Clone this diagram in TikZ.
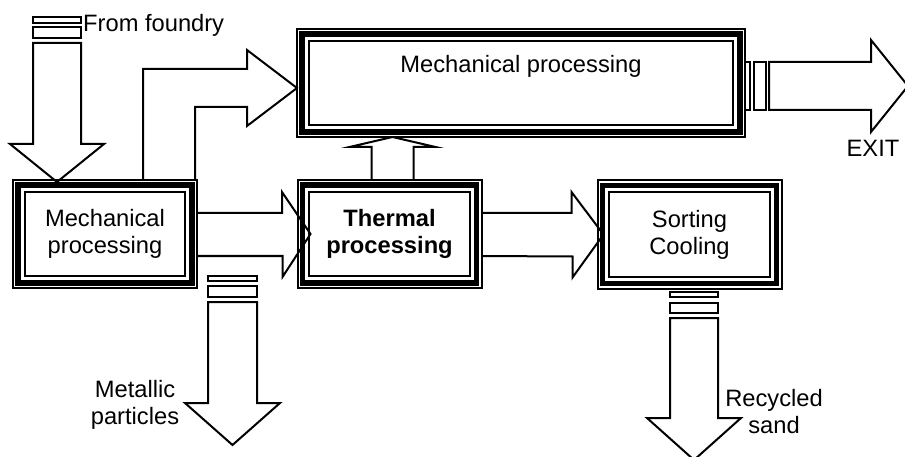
\documentclass[tikz,border=0pt]{standalone}
\usepackage{fontspec}
\setmainfont{Liberation Sans}
\usetikzlibrary{calc}

\newcommand{\figfont}{\fontsize{23.7}{27}\selectfont}

\tikzset{
    procbox/.style={
        draw, line width=2pt, minimum width=184pt, minimum height=108pt,
        inner sep=0pt, outer sep=0pt, align=center, font=\figfont,
        path picture={
            \draw[line width=5.4pt]
                ([shift={(5pt,-5pt)}]path picture bounding box.north west) rectangle
                ([shift={(-5pt,5pt)}]path picture bounding box.south east);
            \draw[line width=2pt]
                ([shift={(11.8pt,-11.8pt)}]path picture bounding box.north west) rectangle
                ([shift={(-11.8pt,11.8pt)}]path picture bounding box.south east);
        }},
    blockarrow/.style={draw, line width=2pt, line join=miter},
    bar/.style={draw, line width=2pt},
    lbl/.style={font=\figfont, align=center, inner sep=0pt}
}

\begin{document}
\begin{tikzpicture}[x=1pt, y=-1pt]
    \useasboundingbox (0,0) rectangle (905,457);

    % process boxes
    \node[procbox] (mech) at (105,234) {Mechanical\\processing};
    \node[procbox, font=\figfont\bfseries] (therm) at (389.5,234) {Thermal\\processing};
    \node[procbox] (sort) at (689.5,234.5) {Sorting\\Cooling};
    \node[procbox, minimum width=448pt] (mechtop) at (521,83) {};
    \node[lbl, anchor=base] (mechtoptxt) at (521,73) {Mechanical processing};

    % feed from the foundry
    \coordinate (found) at (57,17);
    \draw[bar] ($(found)+(-24,0)$) rectangle ++(48,6);
    \draw[bar] ($(found)+(-24,10)$) rectangle ++(48,11);
    \draw[blockarrow] ($(found)+(-24,26)$) -- ++(0,101) -- ++(-23,0)
        -- ([xshift=-48pt,yshift=-2pt]mech.north) -- ++(47,-38) -- ++(-23,0) -- ++(0,-101) -- cycle;
    \node[lbl, anchor=base west] (foundtxt) at ($(found)+(26,15)$) {From foundry};

    % mech -> upper mechanical processing
    \draw[blockarrow] ([xshift=38pt]mech.north) -- ++(0,-111) -- ++(104,0) -- ++(0,-19)
        -- ([yshift=-5pt]mechtop.west) -- ++(-50,38) -- ++(0,-19) -- ++(-52,0) -- ++(0,73);

    % mech -> therm
    \draw[blockarrow] ([yshift=21pt]mech.east) -- ++(85,0) -- ++(0,-21)
        -- ([xshift=13pt]therm.west) -- ++(-28,43) -- ++(0,-21) -- ([yshift=-22pt]mech.east);

    % therm -> sort
    \draw[blockarrow] ([yshift=21pt]therm.east) -- ++(90,0) -- ++(0,-21)
        -- ([xshift=6pt]sort.west) -- ++(-31,43) -- ++(0,-21) -- ([yshift=-22pt]therm.east);

    % therm -> upper mechanical processing
    \draw[blockarrow] ([xshift=-18pt]therm.north) -- ++(0,-33) -- ++(-22,0)
        -- ++(43,-10) -- ++(43,10) -- ++(-22,0) -- ++(0,33);

    % exit
    \draw[bar] ([yshift=21pt]mechtop.east) rectangle ++(5,48);
    \draw[bar] ([xshift=9pt,yshift=21pt]mechtop.east) rectangle ++(12,48);
    \draw[blockarrow] ([xshift=24pt,yshift=21pt]mechtop.east) -- ++(102,0) -- ++(0,-22)
        -- ++(37,46) -- ++(-37,46) -- ++(0,-22) -- ++(-102,0) -- cycle;
    \node[lbl, anchor=base] (exittxt) at (873,157) {EXIT};

    % metallic particles
    \coordinate (metal) at (232.5,276);
    \draw[bar] ($(metal)+(-24.5,0)$) rectangle ++(49,5);
    \draw[bar] ($(metal)+(-24.5,10)$) rectangle ++(49,11);
    \draw[blockarrow] ($(metal)+(-24.5,26)$) -- ++(0,101) -- ++(-23,0)
        -- ++(47.5,42) -- ++(47.5,-42) -- ++(-23,0) -- ++(0,-101) -- cycle;
    \node[lbl] (metaltxt) at (135,404.5) {Metallic\\particles};

    % recycled sand
    \coordinate (sand) at (694,292);
    \draw[bar] ($(sand)+(-24,0)$) rectangle ++(48,5);
    \draw[bar] ($(sand)+(-24,11)$) rectangle ++(48,10);
    \draw[blockarrow] ($(sand)+(-24,26)$) -- ++(0,100) -- ++(-23,0)
        -- ++(47,42) -- ++(47,-42) -- ++(-23,0) -- ++(0,-100) -- cycle;
    \node[lbl] (sandtxt) at (774,412) {Recycled\\sand};
\end{tikzpicture}
\end{document}
